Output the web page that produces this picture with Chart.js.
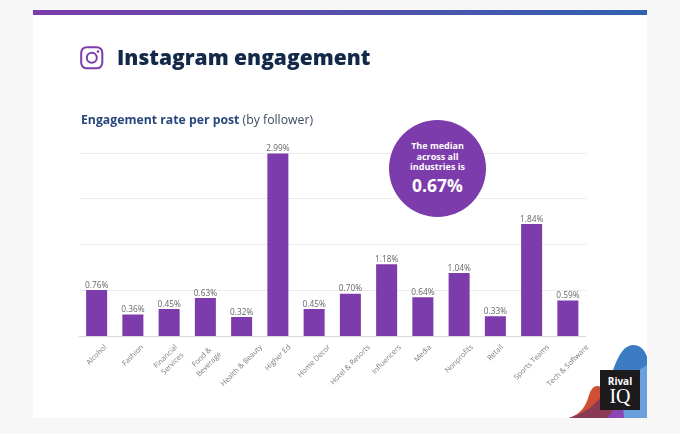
<!DOCTYPE html>
<html>
<head>
<meta charset="utf-8">
<script src="https://cdn.jsdelivr.net/npm/chart.js@4"></script>
<style>
html, body { margin: 0; padding: 0; width: 680px; height: 434px; overflow: hidden; background: #f7f7f7; font-family: "Open Sans", sans-serif; }
#card { position: absolute; left: 33px; top: 10px; width: 614px; height: 408px; background: #fff; overflow: hidden; }
#topbar { position: absolute; left: 0; top: 0; width: 100%; height: 5px; background: linear-gradient(90deg, #7d3cab, #2f63b0); }
#blobs { position: absolute; left: 0; top: 0; }
#insta { position: absolute; left: 79.5px; top: 46px; }
#title { position: absolute; left: 117px; top: 41px; font-size: 21px; line-height: 32px; font-weight: 800; color: #12294a; white-space: nowrap; }
#subtitle { position: absolute; left: 81px; top: 110.5px; font-size: 12.25px; line-height: 18px; font-weight: 700; color: #28477c; white-space: nowrap; }
#subtitle span { font-weight: 400; color: #3d4a63; }
#chart { position: absolute; left: 0; top: 0; }
#median { position: absolute; left: 389px; top: 120px; width: 97px; height: 97px; border-radius: 50%; background: #7d3cab; color: #fff; text-align: center; font-weight: 700; font-size: 9px; line-height: 10.7px; }
#median .txt { padding-top: 21px; }
#median .big { font-size: 17.5px; line-height: 24px; margin-top: 0; }
#logo { position: absolute; left: 600px; top: 370px; width: 40px; height: 40px; background: #1c1a1c; color: #fff; text-align: center; }
#logo .a { font-weight: 700; font-size: 10px; line-height: 11px; padding-top: 6px; }
#logo .b { font-family: "Liberation Serif", serif; font-weight: 400; font-size: 20px; line-height: 18px; }
</style>
</head>
<body>
<div id="card">
  <svg id="blobs" width="614" height="408">
    <path d="M572 400 C575 372 584 335 600 335 C608 335 612 341 614 347 L614 408 L572 408 Z" fill="#3b7cc3"/>
    <path d="M614 355 L590 370 L580 408 L614 408 Z" fill="#6a9fdd"/>
    <path d="M536 408 C548 404 553 396 556 385 C558 379 561 376 564 376 C568 376 572 378 575 382 L590 408 Z" fill="#cf4f35"/>
    <path d="M536 408 C552 403 560 396 567 388 L580 392 L590 408 Z" fill="#8a3a55"/>
    <path d="M574 408 L582 398 L590 396 L591 408 Z" fill="#8d45b5"/>
  </svg>
  <div id="topbar"></div>
</div>
<canvas id="chart" width="680" height="434"></canvas>
<svg id="insta" width="24" height="24" viewBox="0 0 24 24" fill="none" stroke="#7d3cab">
  <rect x="1.2" y="1.2" width="21.1" height="21.1" rx="5.5" stroke-width="2"/>
  <circle cx="11.8" cy="11.8" r="5" stroke-width="2"/>
  <circle cx="18" cy="5.6" r="1.3" fill="#7d3cab" stroke="none"/>
</svg>
<div id="title">Instagram engagement</div>
<div id="subtitle">Engagement rate per post <span>(by follower)</span></div>
<div id="median"><div class="txt">The median<br>across all<br>industries is<div class="big">0.67%</div></div></div>
<div id="logo"><div class="a">Rival</div><div class="b">IQ</div></div>

<script>
const categories = ['Alcohol', 'Fashion', ['Financial', 'Services'], ['Food &', 'Beverage'], 'Health & Beauty', 'Higher Ed', 'Home Decor', 'Hotel & Resorts', 'Influencers', 'Media', 'Nonprofits', 'Retail', 'Sports Teams', 'Tech & Software'];
const engagement = [0.76, 0.36, 0.45, 0.63, 0.32, 2.99, 0.45, 0.70, 1.18, 0.64, 1.04, 0.33, 1.84, 0.59];
const yTicks = [0, 0.75, 1.5, 2.25, 3];

// percent labels above the bars
const barLabels = {
    id: 'barLabels',
    afterDatasetsDraw(chart) {
        const ctx = chart.ctx;
        ctx.save();
        ctx.font = '8.3px "Open Sans"';
        ctx.fillStyle = '#666';
        ctx.textAlign = 'center';
        ctx.textBaseline = 'bottom';
        chart.getDatasetMeta(0).data.forEach((bar, i) => {
            ctx.fillText(engagement[i].toFixed(2) + '%', bar.x, bar.y - 0.5);
        });
        ctx.restore();
    }
};

// the slanted category labels are centred under the bar, top edges level,
// chart.js would right-align them so they are drawn here
const slantLabels = {
    id: 'slantLabels',
    afterDraw(chart) {
        const ctx = chart.ctx;
        const xScale = chart.scales.x;
        const top = xScale.top + 6;
        const lineH = 10;
        ctx.save();
        ctx.font = '7.3px "Open Sans"';
        ctx.fillStyle = '#7a7a7a';
        ctx.textAlign = 'center';
        ctx.textBaseline = 'middle';
        categories.forEach((label, i) => {
            const lines = [].concat(label);
            const w = Math.max(...lines.map(l => ctx.measureText(l).width));
            const half = (w + lines.length * lineH) * Math.SQRT1_2 / 2;
            ctx.save();
            ctx.translate(xScale.getPixelForValue(i), top + half);
            ctx.rotate(-Math.PI / 4);
            lines.forEach((l, j) => ctx.fillText(l, 0, (j - (lines.length - 1) / 2) * lineH));
            ctx.restore();
        });
        ctx.restore();
    }
};

const myChart = new Chart(document.getElementById('chart'), {
    type: 'bar',
    data: {
        labels: categories,
        datasets: [{
            data: engagement,
            backgroundColor: '#7d3cab',
            barPercentage: 0.58,
            categoryPercentage: 1
        }]
    },
    options: {
        responsive: false,
        animation: false,
        layout: { padding: { left: 78.5, right: 94, top: 153, bottom: 0 } },
        plugins: { legend: { display: false }, tooltip: { enabled: false } },
        scales: {
            x: {
                grid: { display: false },
                border: { display: false },
                afterFit(scale) { scale.height = 97.5; },
                ticks: { display: false, autoSkip: false }
            },
            y: {
                min: 0,
                max: 3,
                afterBuildTicks(scale) { scale.ticks = yTicks.map(v => ({ value: v })); },
                afterFit(scale) { scale.width = 0; },
                border: { display: false },
                grid: {
                    drawTicks: false,
                    color: ctx => ctx.tick.value === 0 ? '#d9d9d9' : '#ececec'
                },
                ticks: { display: false }
            }
        }
    },
    plugins: [barLabels, slantLabels]
});
</script>
</body>
</html>
